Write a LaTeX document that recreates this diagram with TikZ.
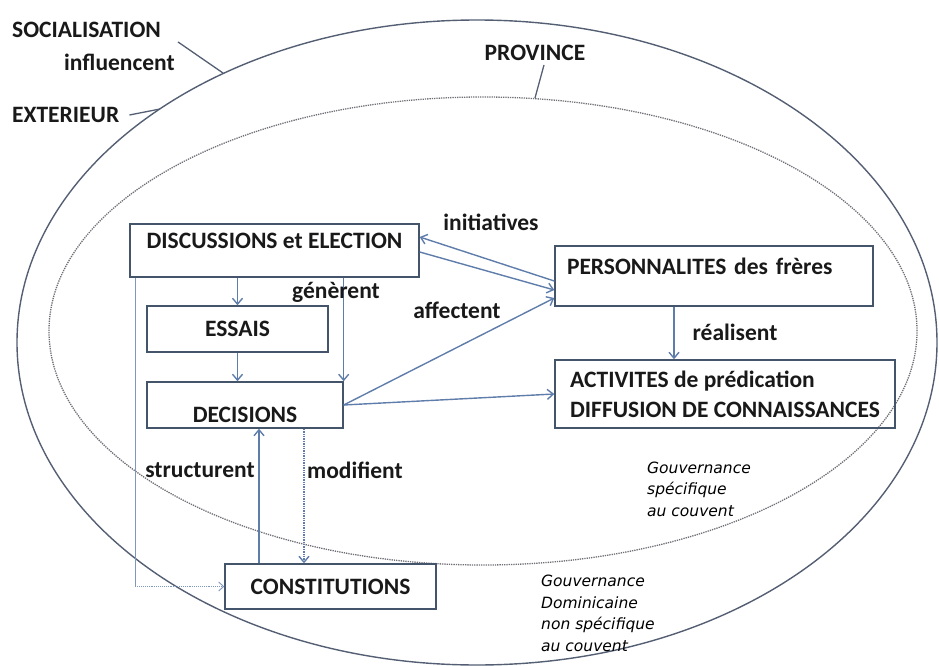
\documentclass[tikz,border=0pt]{standalone}
\usepackage{fontspec}
\setmainfont{Carlito}
\newfontfamily\gouvfont{DejaVu Sans}
\usetikzlibrary{arrows.meta,positioning,calc}

\definecolor{boxline}{RGB}{68,84,106}
\definecolor{arrowcol}{RGB}{95,125,170}
\definecolor{fieldline}{RGB}{85,95,115}
\definecolor{innerfield}{RGB}{110,110,118}

\tikzset{
  box/.style={draw=boxline, line width=1.4pt, inner sep=0pt, text=black!90,
    font=\bfseries\fontsize{23.5}{30}\selectfont},
  oneline/.style={text height=15pt, text depth=0pt},
  lbl/.style={inner sep=0pt, text=black!90, font=\bfseries\fontsize{23.5}{30}\selectfont},
  link/.style={draw=arrowcol, line width=1.4pt, -{Straight Barb[length=6pt,width=10pt]}},
  thinlink/.style={draw=arrowcol!80, line width=0.9pt},
  pointer/.style={draw=fieldline, line width=1.3pt},
  gouv/.style={inner sep=0pt, align=left, text=black,
    font=\gouvfont\itshape\fontsize{15.5}{21.5}\selectfont},
}

\begin{document}
\begin{tikzpicture}[x=1pt,y=-1pt]
\useasboundingbox (0,0) rectangle (939,666);

% the two fields
\draw[fieldline, line width=1.4pt] (477,342.5) ellipse [x radius=460pt, y radius=322.5pt];
\draw[innerfield, line width=1.3pt, densely dotted] (483,331) ellipse [x radius=434pt, y radius=234pt];

% names of the fields
\node[lbl, anchor=west] (soc) at (12,30) {SOCIALISATION};
\node[lbl, anchor=west] (infl) at (64,62) {influencent};
\node[lbl, anchor=west] (ext) at (12,115) {EXTERIEUR};
\node[lbl] (prov) at (535,53) {PROVINCE};
\coordinate (socpt) at (223,73);
\coordinate (extpt) at (160,109);
\coordinate (provpt) at (535,98);
\draw[pointer] ([xshift=17pt,yshift=-12pt]soc.east) -- (socpt);
\draw[pointer] ([xshift=10pt]ext.east) -- (extpt);
\draw[pointer] ([xshift=9pt,yshift=-4pt]prov.south) -- (provpt);

% boxes
\node[box, oneline, minimum width=289pt, minimum height=53pt, text depth=20pt] (disc) at (274.5,250.5) {DISCUSSIONS et ELECTION};
\node[box, oneline, minimum width=181pt, minimum height=46pt] (essais) at (237.5,329) {ESSAIS};
\node[box, oneline, minimum width=196pt, minimum height=46pt, text height=35pt] (dec) at (245,405) {DECISIONS};
\node[box, oneline, minimum width=318pt, minimum height=60pt, text width=294pt, align=left, text depth=18pt] (pers) at (714,276) {PERSONNALITES des frères};
\node[box, minimum width=340pt, minimum height=68pt, align=left] (act) at (725,394) {ACTIVITES de prédication\\DIFFUSION DE CONNAISSANCES};
\node[box, oneline, minimum width=211pt, minimum height=45pt] (const) at (330.5,586.5) {CONSTITUTIONS};

% links
\draw[link] ([yshift=-5pt]pers.west) -- ([yshift=13.5pt]disc.east);
\draw[link] ([yshift=-1.5pt]disc.east) -- ([yshift=-14pt]pers.west);
\draw[link] (dec.east) -- ([yshift=-22pt]pers.west);
\draw[link] (dec.east) -- (act.west);
\coordinate (real) at ([xshift=-40pt]pers.south);
\draw[link] (real) -- (real |- act.north);
\draw[link] (disc.south -| essais.north) -- (essais.north);
\draw[link] (essais.south) -- (essais.south |- dec.north);
\draw[link] (disc.south -| dec.north east) -- (dec.north east);
\coordinate (stru) at ([xshift=14pt]dec.south);
\draw[link] (stru |- const.north) -- (stru);
\coordinate (modi) at ([xshift=59pt]dec.south);
\draw[link, densely dotted] (modi) -- (modi |- const.north);
\coordinate (lft) at ([xshift=6pt]disc.south west);
\draw[thinlink] (lft) -- (lft |- const.west);
\draw[thinlink, densely dotted, -{Straight Barb[length=5pt,width=9pt]}] (lft |- const.west) -- (const.west);

% verbs
\node[lbl] (gen) at (336,292) {génèrent};
\node[lbl] (init) at (491,222) {initiatives};
\node[lbl] (aff) at (457,310) {affectent};
\node[lbl] (realt) at (735,332) {réalisent};
\node[lbl] (strut) at (200,470) {structurent};
\node[lbl] (modit) at (355,470) {modifient};

% governance notes
\node[gouv, anchor=west] (gspec) at (647,489) {Gouvernance\\spécifique\\au couvent};
\node[gouv, anchor=west] (gdom) at (541,613.5) {Gouvernance\\Dominicaine\\non spécifique\\au couvent};
\end{tikzpicture}
\end{document}
